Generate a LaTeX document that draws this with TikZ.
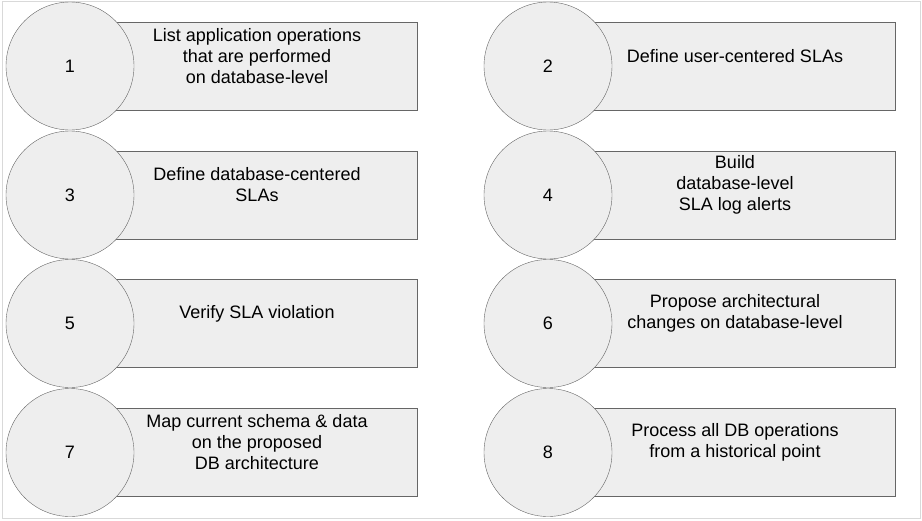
\documentclass[tikz,border=0pt]{standalone}
\usepackage{fontspec}
\setmainfont{Liberation Sans}
\tikzset{
  steptext/.style = {align=center, font=\fontsize{18}{21}\selectfont},
  stepbox/.style = {draw=black!60, fill=gray!13, minimum width=320pt, minimum height=88pt, inner sep=0pt},
  stepnum/.style = {draw=black!60, fill=gray!13, circle, minimum size=128pt, inner sep=0pt}
}
\begin{document}
\begin{tikzpicture}[x=1pt,y=-1pt]
  \useasboundingbox (0,0) rectangle (922,520);
  \draw[black!15] (2,1) rectangle (920,518);
  \foreach \i/\x/\y/\txt in {
    1/70/66/{List application operations\\that are performed\\on database-level},
    2/548/66/{Define user-centered SLAs},
    3/70/195/{Define database-centered\\SLAs},
    4/548/195/{Build\\database-level\\SLA log alerts},
    5/70/323.5/{Verify SLA violation},
    6/548/323.5/{Propose architectural\\changes on database-level},
    7/70/452.5/{Map current schema \& data\\on the proposed\\DB architecture},
    8/548/452.5/{Process all DB operations\\from a historical point}}{
    \node[stepbox] (r\i) at (\x+187,\y) {};
    \node[steptext] (t\i) at ([yshift=10pt]r\i.center) {\txt};
    \node[stepnum, steptext] (c\i) at (\x,\y) {\i};
  }
\end{tikzpicture}
\end{document}
